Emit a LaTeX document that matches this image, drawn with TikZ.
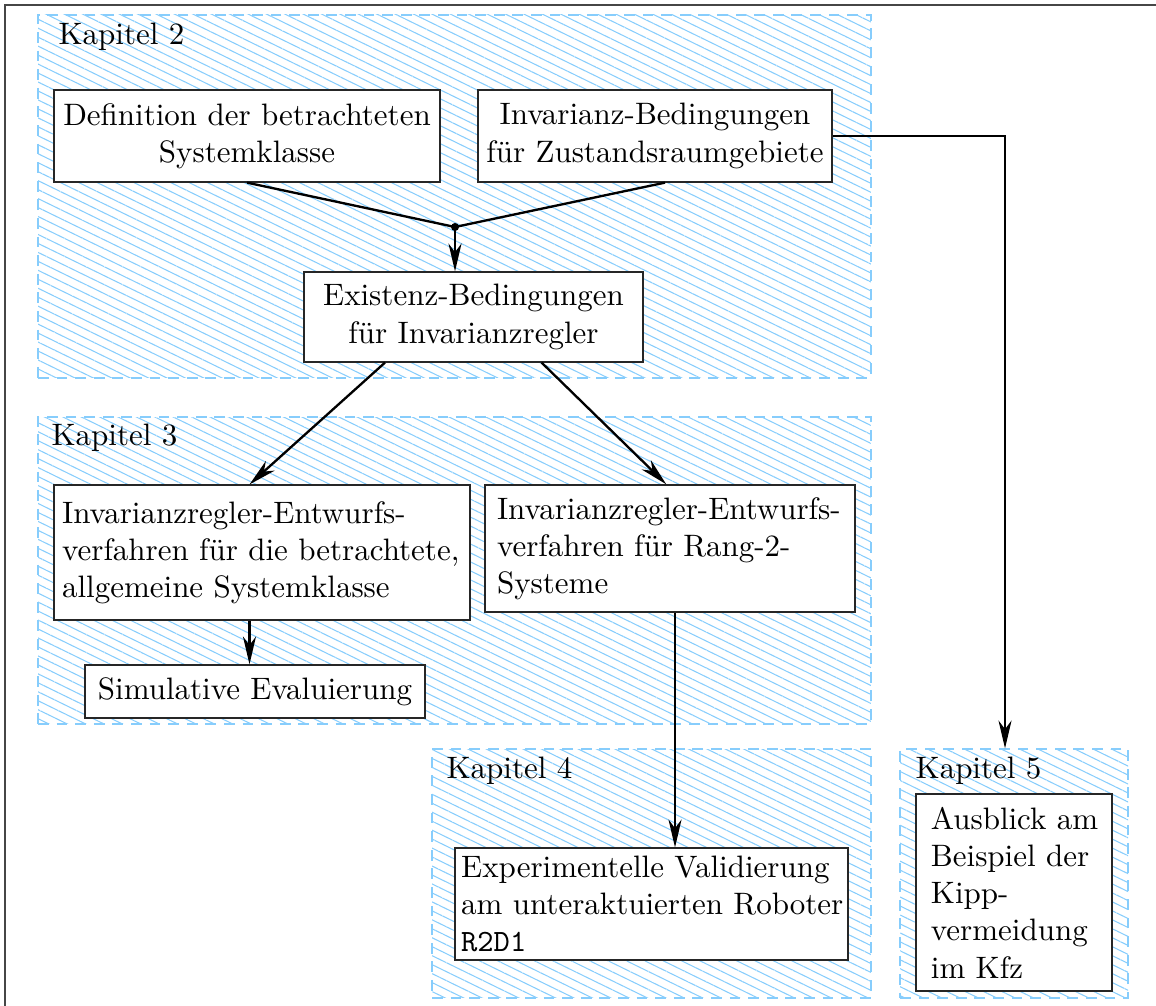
\documentclass[tikz,border=0pt]{standalone}
\usetikzlibrary{arrows.meta,patterns.meta,calc}
\definecolor{hatch}{RGB}{135,205,252}
\definecolor{framecol}{RGB}{70,70,70}
\tikzset{
  region/.style={draw=hatch, dash pattern=on 3.5pt off 2.5pt, line width=0.4pt,
    pattern={Lines[angle=-26,distance=2.6pt,line width=0.34pt]}, pattern color=hatch,
    inner sep=0pt},
  box/.style={draw=black!85, fill=white, line width=0.4pt, inner sep=0pt},
  arr/.style={-{Stealth[length=9pt,width=4.2pt,inset=2.8pt]}, line width=0.75pt},
  conn/.style={line width=0.75pt},
  lbl/.style={anchor=west, inner sep=0pt},
}
\begin{document}
\begin{tikzpicture}[x=0.3226pt,y=-0.3226pt]
\useasboundingbox (0,0) rectangle (1156,1005);
% outer frame (only top and left visible)
\coordinate (f1) at (1160,5);
\coordinate (f2) at (5,5);
\coordinate (f3) at (5,1010);
\draw[framecol, line width=0.5pt] (f1) -- (f2) -- (f3);

% chapter regions
\node[region, minimum width=268.7pt, minimum height=117.1pt] (k2) at (454.5,196.5) {};
\node[region, minimum width=268.7pt, minimum height=99.0pt] (k3) at (454.5,570.5) {};
\node[region, minimum width=141.6pt, minimum height=80.3pt] (k4) at (651.5,873.5) {};
\node[region, minimum width=73.55pt, minimum height=80.3pt] (k5) at (1014,873.5) {};

\node[lbl] (l2) at (58,37) {Kapitel 2};
\node[lbl] (l3) at (51,438) {Kapitel 3};
\node[lbl] (l4) at (446,771) {Kapitel 4};
\node[lbl] (l5) at (915,771) {Kapitel 5};

% boxes
\node[box, minimum width=124.5pt, minimum height=29.7pt, align=center] (A) at (247,136)
  {Definition der betrachteten\\Systemklasse};
\node[box, minimum width=114.2pt, minimum height=29.7pt, align=center] (B) at (655,136)
  {Invarianz-Bedingungen\\f\"ur Zustandsraumgebiete};
\node[box, minimum width=109.4pt, minimum height=29pt, align=center] (C) at (473.5,317)
  {Existenz-Bedingungen\\f\"ur Invarianzregler};
\node[box, inner xsep=2.6pt, text width=129pt, minimum height=43.5pt, align=left] (D) at (262,552.5)
  {\mbox{Invarianzregler-Entwurfs-}\\\mbox{verfahren f\"ur die betrachtete,}\\\mbox{allgemeine Systemklasse}};
\node[box, inner xsep=3.9pt, text width=111.6pt, minimum height=41pt, align=left] (E) at (670,548.5)
  {\mbox{Invarianzregler-Entwurfs-}\\\mbox{verfahren f\"ur Rang-2-}\\\mbox{Systeme}};
\node[box, minimum width=109.7pt, minimum height=17.1pt, align=center] (F) at (255,691.5)
  {Simulative Evaluierung};
\node[box, inner xsep=2pt, text width=122.8pt, minimum height=36.1pt, align=left] (G) at (651.5,904)
  {\mbox{Experimentelle Validierung}\\\mbox{am unteraktuierten Roboter}\\\mbox{\texttt{R2D1}}};
\node[box, inner xsep=4.8pt, text width=53.6pt, minimum height=63.6pt, align=left] (H) at (1014,892.5)
  {\mbox{Ausblick am}\\\mbox{Beispiel der}\\\mbox{Kipp-}\\\mbox{vermeidung}\\\mbox{im Kfz}};

% connectors
\coordinate (j) at (455,227);
\draw[conn] (A.south) -- (j) -- ($(B.south)+(10,0)$);
\fill (j) circle (1.3pt);
\draw[arr] (j) -- (j |- C.north);
\draw[arr] ($(C.south west)!0.24!(C.south east)$) -- ($(D.north west)!0.47!(D.north east)$);
\draw[arr] ($(C.south west)!0.70!(C.south east)$) -- ($(E.north west)!0.49!(E.north east)$);
\coordinate (ds) at ($(D.south west)!0.47!(D.south east)$);
\draw[arr] (ds) -- (ds |- F.north);
\coordinate (es) at ($(E.south)+(5,0)$);
\draw[arr] (es) -- (es |- G.north);
\draw[arr] (B.east) -| ($(k5.north)+(-9,0)$);
\end{tikzpicture}
\end{document}
